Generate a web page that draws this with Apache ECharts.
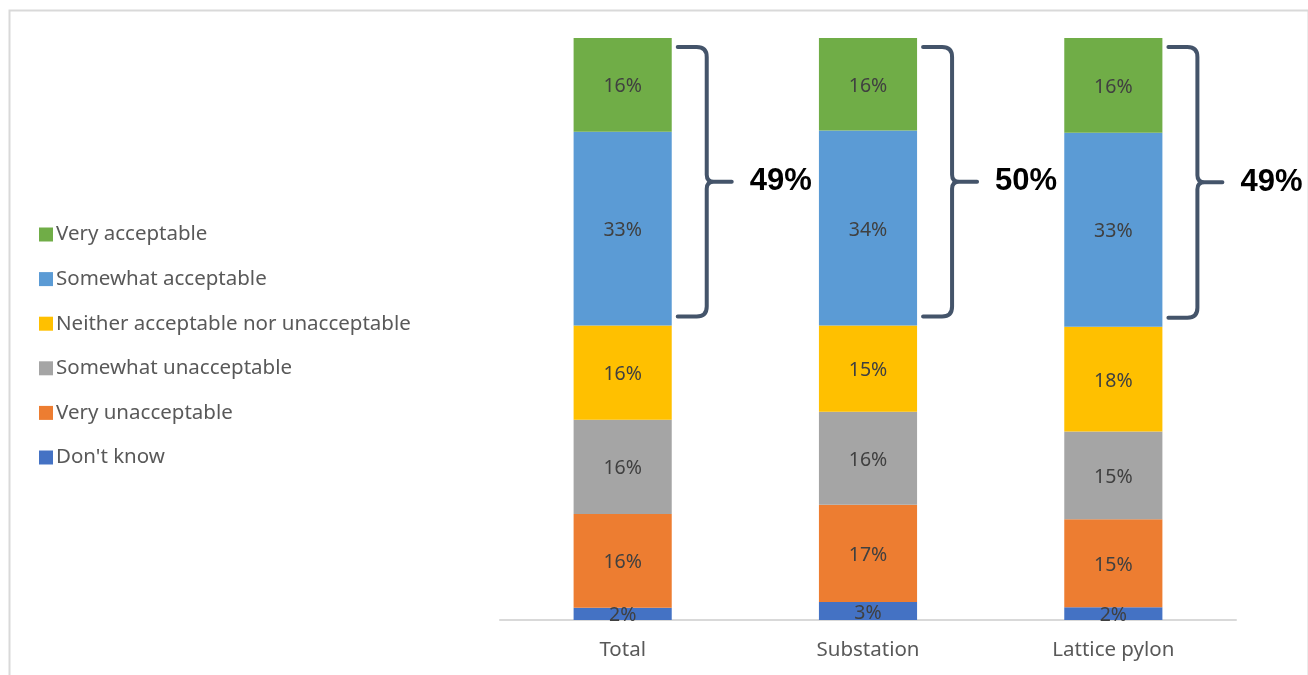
<!DOCTYPE html>
<html>
<head>
<meta charset="utf-8">
<script src="https://cdn.jsdelivr.net/npm/echarts@6/dist/echarts.min.js"></script>
<style>
html,body{margin:0;padding:0;background:#fff;}
#chart{width:1308px;height:675px;}
</style>
</head>
<body>
<div id="chart"></div>
<script>
// ---- Data ----
const categories = ['Total', 'Substation', 'Lattice pylon'];
const seriesNames = ['Don\'t know', 'Very unacceptable', 'Somewhat unacceptable', 'Neither acceptable nor unacceptable', 'Somewhat acceptable', 'Very acceptable'];
const dontKnow = [2.1, 3.1, 2.2];
const veryUnacceptable = [16.1, 16.7, 15.1];
const somewhatUnacceptable = [16.2, 16.0, 15.1];
const neither = [16.2, 14.8, 18.0];
const somewhatAcceptable = [33.3, 33.5, 33.3];
const veryAcceptable = [16.1, 15.9, 16.3];
const netAcceptable = [49, 50, 49];
const legendOrder = ['Very acceptable', 'Somewhat acceptable', 'Neither acceptable nor unacceptable', 'Somewhat unacceptable', 'Very unacceptable', 'Don\'t know'];

const colors = ['#4472C4', '#ED7D31', '#A5A5A5', '#FFC000', '#5B9BD5', '#70AD47'];
const values = [dontKnow, veryUnacceptable, somewhatUnacceptable, neither, somewhatAcceptable, veryAcceptable];
const FONT = 'Noto Sans';

const barSeries = seriesNames.map((name, i) => ({
  name: name,
  type: 'bar',
  stack: 'total',
  barWidth: '40%',
  data: values[i],
  itemStyle: { color: colors[i] },
  label: {
    show: true,
    position: 'inside',
    color: '#404040',
    fontSize: 19.5,
    fontFamily: FONT,
    offset: [0, 2],
    formatter: p => Math.round(p.value) + '%'
  },
  emphasis: { disabled: true }
}));

// brace data: [category index, bottom of acceptable group, top, label value]
const braceData = categories.map((c, i) => {
  const low = dontKnow[i] + veryUnacceptable[i] + somewhatUnacceptable[i] + neither[i];
  const high = low + somewhatAcceptable[i] + veryAcceptable[i];
  return [i, low, high, netAcceptable[i]];
});

const braceSeries = {
  type: 'custom',
  name: 'brace',
  clip: false,
  silent: true,
  data: braceData,
  encode: { x: 0, y: [1, 2] },
  renderItem: function (params, api) {
    const idx = api.value(0);
    const pTop = api.coord([idx, api.value(2)]);
    const pBot = api.coord([idx, api.value(1)]);
    const band = api.size([1, 0])[0];
    const barRight = pTop[0] + band * 0.2;
    const top = pTop[1] + 9, bot = pBot[1] - 9, mid = (top + bot) / 2;
    const x0 = barRight + 6, xv = barRight + 35, xt = barRight + 60;
    const r = 10;
    const path =
      'M' + x0 + ',' + top +
      ' L' + (xv - r) + ',' + top +
      ' Q' + xv + ',' + top + ' ' + xv + ',' + (top + r) +
      ' L' + xv + ',' + (mid - 7) +
      ' Q' + xv + ',' + mid + ' ' + (xv + 7) + ',' + mid +
      ' L' + xt + ',' + mid +
      ' M' + (xv + 7) + ',' + mid +
      ' Q' + xv + ',' + mid + ' ' + xv + ',' + (mid + 7) +
      ' L' + xv + ',' + (bot - r) +
      ' Q' + xv + ',' + bot + ' ' + (xv - r) + ',' + bot +
      ' L' + x0 + ',' + bot;
    return {
      type: 'group',
      children: [
        {
          type: 'path',
          shape: { pathData: path },
          style: { fill: null, stroke: '#44546A', lineWidth: 4, lineCap: 'round', lineJoin: 'round' }
        },
        {
          type: 'text',
          style: {
            x: xt + 18, y: mid,
            text: api.value(3) + '%',
            fill: '#000',
            font: 'bold 31px "Liberation Sans", Arial, sans-serif',
            textVerticalAlign: 'middle',
            verticalAlign: 'middle'
          }
        }
      ]
    };
  },
  z: 5
};

const chart = echarts.init(document.getElementById('chart'));
chart.setOption({
  animation: false,
  backgroundColor: '#fff',
  graphic: [{
    type: 'rect',
    left: 7, top: 8,
    shape: { width: 1299, height: 700 },
    style: { fill: null, stroke: '#D9D9D9', lineWidth: 2 },
    silent: true
  }],
  legend: {
    data: legendOrder,
    orient: 'vertical',
    left: 34,
    top: 219,
    itemWidth: 14,
    itemHeight: 14,
    itemGap: 23.6,
    icon: 'rect',
    textStyle: { color: '#595959', fontSize: 20.5, lineHeight: 20, fontFamily: FONT, padding: [0, 0, 0, -2] },
    selectedMode: false
  },
  grid: { left: 500, right: 72, top: 38, bottom: 55 },
  xAxis: {
    type: 'category',
    data: categories,
    axisLine: { lineStyle: { color: '#D9D9D9', width: 2 } },
    axisTick: { show: false },
    axisLabel: { color: '#595959', fontSize: 20.5, fontFamily: FONT, margin: 20 }
  },
  yAxis: {
    type: 'value',
    min: 0, max: 100,
    show: false,
    splitLine: { show: false }
  },
  series: [...barSeries, braceSeries]
});
</script>
</body>
</html>
